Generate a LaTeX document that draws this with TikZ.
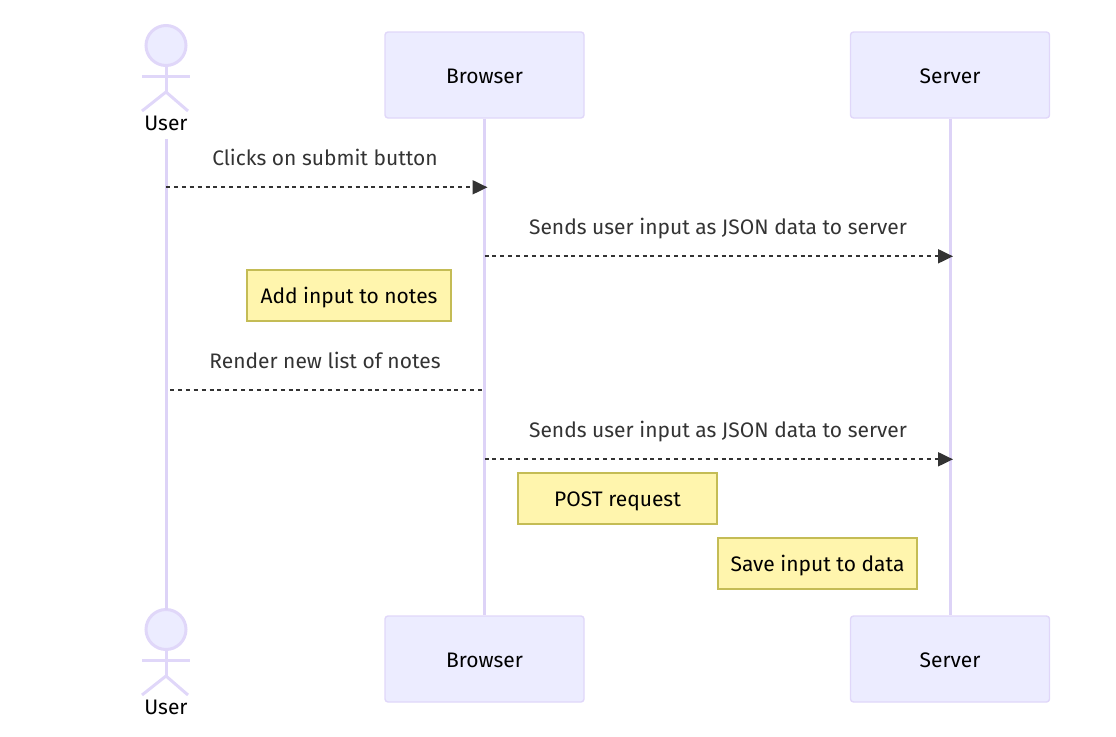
\documentclass[tikz,border=0pt]{standalone}
\usepackage{fontspec}
\setmainfont{Fira Sans}
\usetikzlibrary{arrows.meta}
\definecolor{actorfill}{HTML}{ECECFF}
\definecolor{actorline}{HTML}{E0D7F9}
\definecolor{lifeline}{HTML}{DDD3F7}
\definecolor{notefill}{HTML}{FFF5AD}
\definecolor{noteline}{HTML}{C4BC55}
\definecolor{msgcolor}{HTML}{333333}
\tikzset{
	every node/.style={text height=18pt,text depth=2pt},
	actorbox/.style={draw=actorline,fill=actorfill,line width=1.4pt,rounded corners=3pt,minimum width=199pt,minimum height=86pt,inner sep=0pt,text=black},
	actorhead/.style={circle,draw=actorline,fill=actorfill,line width=3pt,minimum size=40pt,inner sep=0pt,outer sep=0pt,text height=,text depth=},
	actorname/.style={inner sep=0pt,minimum height=33.4pt,text=black},
	lifeline/.style={draw=lifeline,line width=3pt},
	limb/.style={draw=actorline,line width=3pt,line cap=butt},
	notebox/.style={draw=noteline,fill=notefill,line width=1.4pt,minimum height=51pt,inner sep=0pt,text=black,text height=18.8pt},
	msgline/.style={draw=msgcolor,line width=2pt,dash pattern=on 4pt off 3.9pt},
	msgtext/.style={text=msgcolor,inner sep=0pt},
	msgarrow/.style={-{Triangle[length=15pt,width=14pt,color=msgcolor]},shorten >=-3pt}
}
\begin{document}
\begin{tikzpicture}[x=1pt,y=-1pt,font=\fontsize{21}{24}\selectfont]
	\useasboundingbox (0,0) rectangle (1116,736);
	\def\xu{166} % user
	\def\xb{484.5} % browser
	\def\xs{950} % server
	% hinh nguoi tren va duoi
	\node[actorhead] (userHeadT) at (\xu,45.5) {};
	\node[actorhead] (userHeadB) at (\xu,629.5) {};
	\foreach \d in {0,584}{
		\draw[limb] (\xu,66+\d)--(\xu,92+\d) (142,76+\d)--(190,76+\d);
		\draw[limb] (142,111+\d)--(\xu,92+\d)--(188,111+\d);
	}
	\node[actorname] (userT) at (\xu,122) {User};
	\node[actorname] (userB) at (\xu,706) {User};
	% cac hop
	\node[actorbox] (browserT) at (\xb,75) {Browser};
	\node[actorbox] (serverT) at (\xs,75) {Server};
	\node[actorbox] (browserB) at (\xb,659) {Browser};
	\node[actorbox] (serverB) at (\xs,659) {Server};
	% duong doi
	\draw[lifeline] (userT)--(userHeadB);
	\draw[lifeline] (browserT)--(browserB);
	\draw[lifeline] (serverT)--(serverB);
	% diem dau cuoi thong diep
	\path
	(\xu,187.3) coordinate (A1)
	(\xb,187.3) coordinate (A2)
	(\xb,256.3) coordinate (B1)
	(\xs,256.3) coordinate (B2)
	(170,390.3) coordinate (C1)
	(\xb,390.3) coordinate (C2)
	(\xb,459.3) coordinate (D1)
	(\xs,459.3) coordinate (D2);
	\draw[msgline,msgarrow] (A1)--(A2);
	\draw[msgline,msgarrow] (B1)--(B2);
	\draw[msgline] (C1)--(C2);
	\draw[msgline,msgarrow] (D1)--(D2);
	\node[msgtext] (clicks) at (325,157) {Clicks on submit button};
	\node[msgtext] (sendsA) at (718,226) {Sends user input as JSON data to server};
	\node[msgtext] (render) at (325,360) {Render new list of notes};
	\node[msgtext] (sendsB) at (718,429) {Sends user input as JSON data to server};
	% ghi chu
	\node[notebox,minimum width=204pt] (noteAdd) at (349,295.5) {Add input to notes};
	\node[notebox,minimum width=199pt] (notePost) at (617.5,498.5) {POST request};
	\node[notebox,minimum width=199pt] (noteSave) at (817.5,563.5) {Save input to data};
\end{tikzpicture}
\end{document}
